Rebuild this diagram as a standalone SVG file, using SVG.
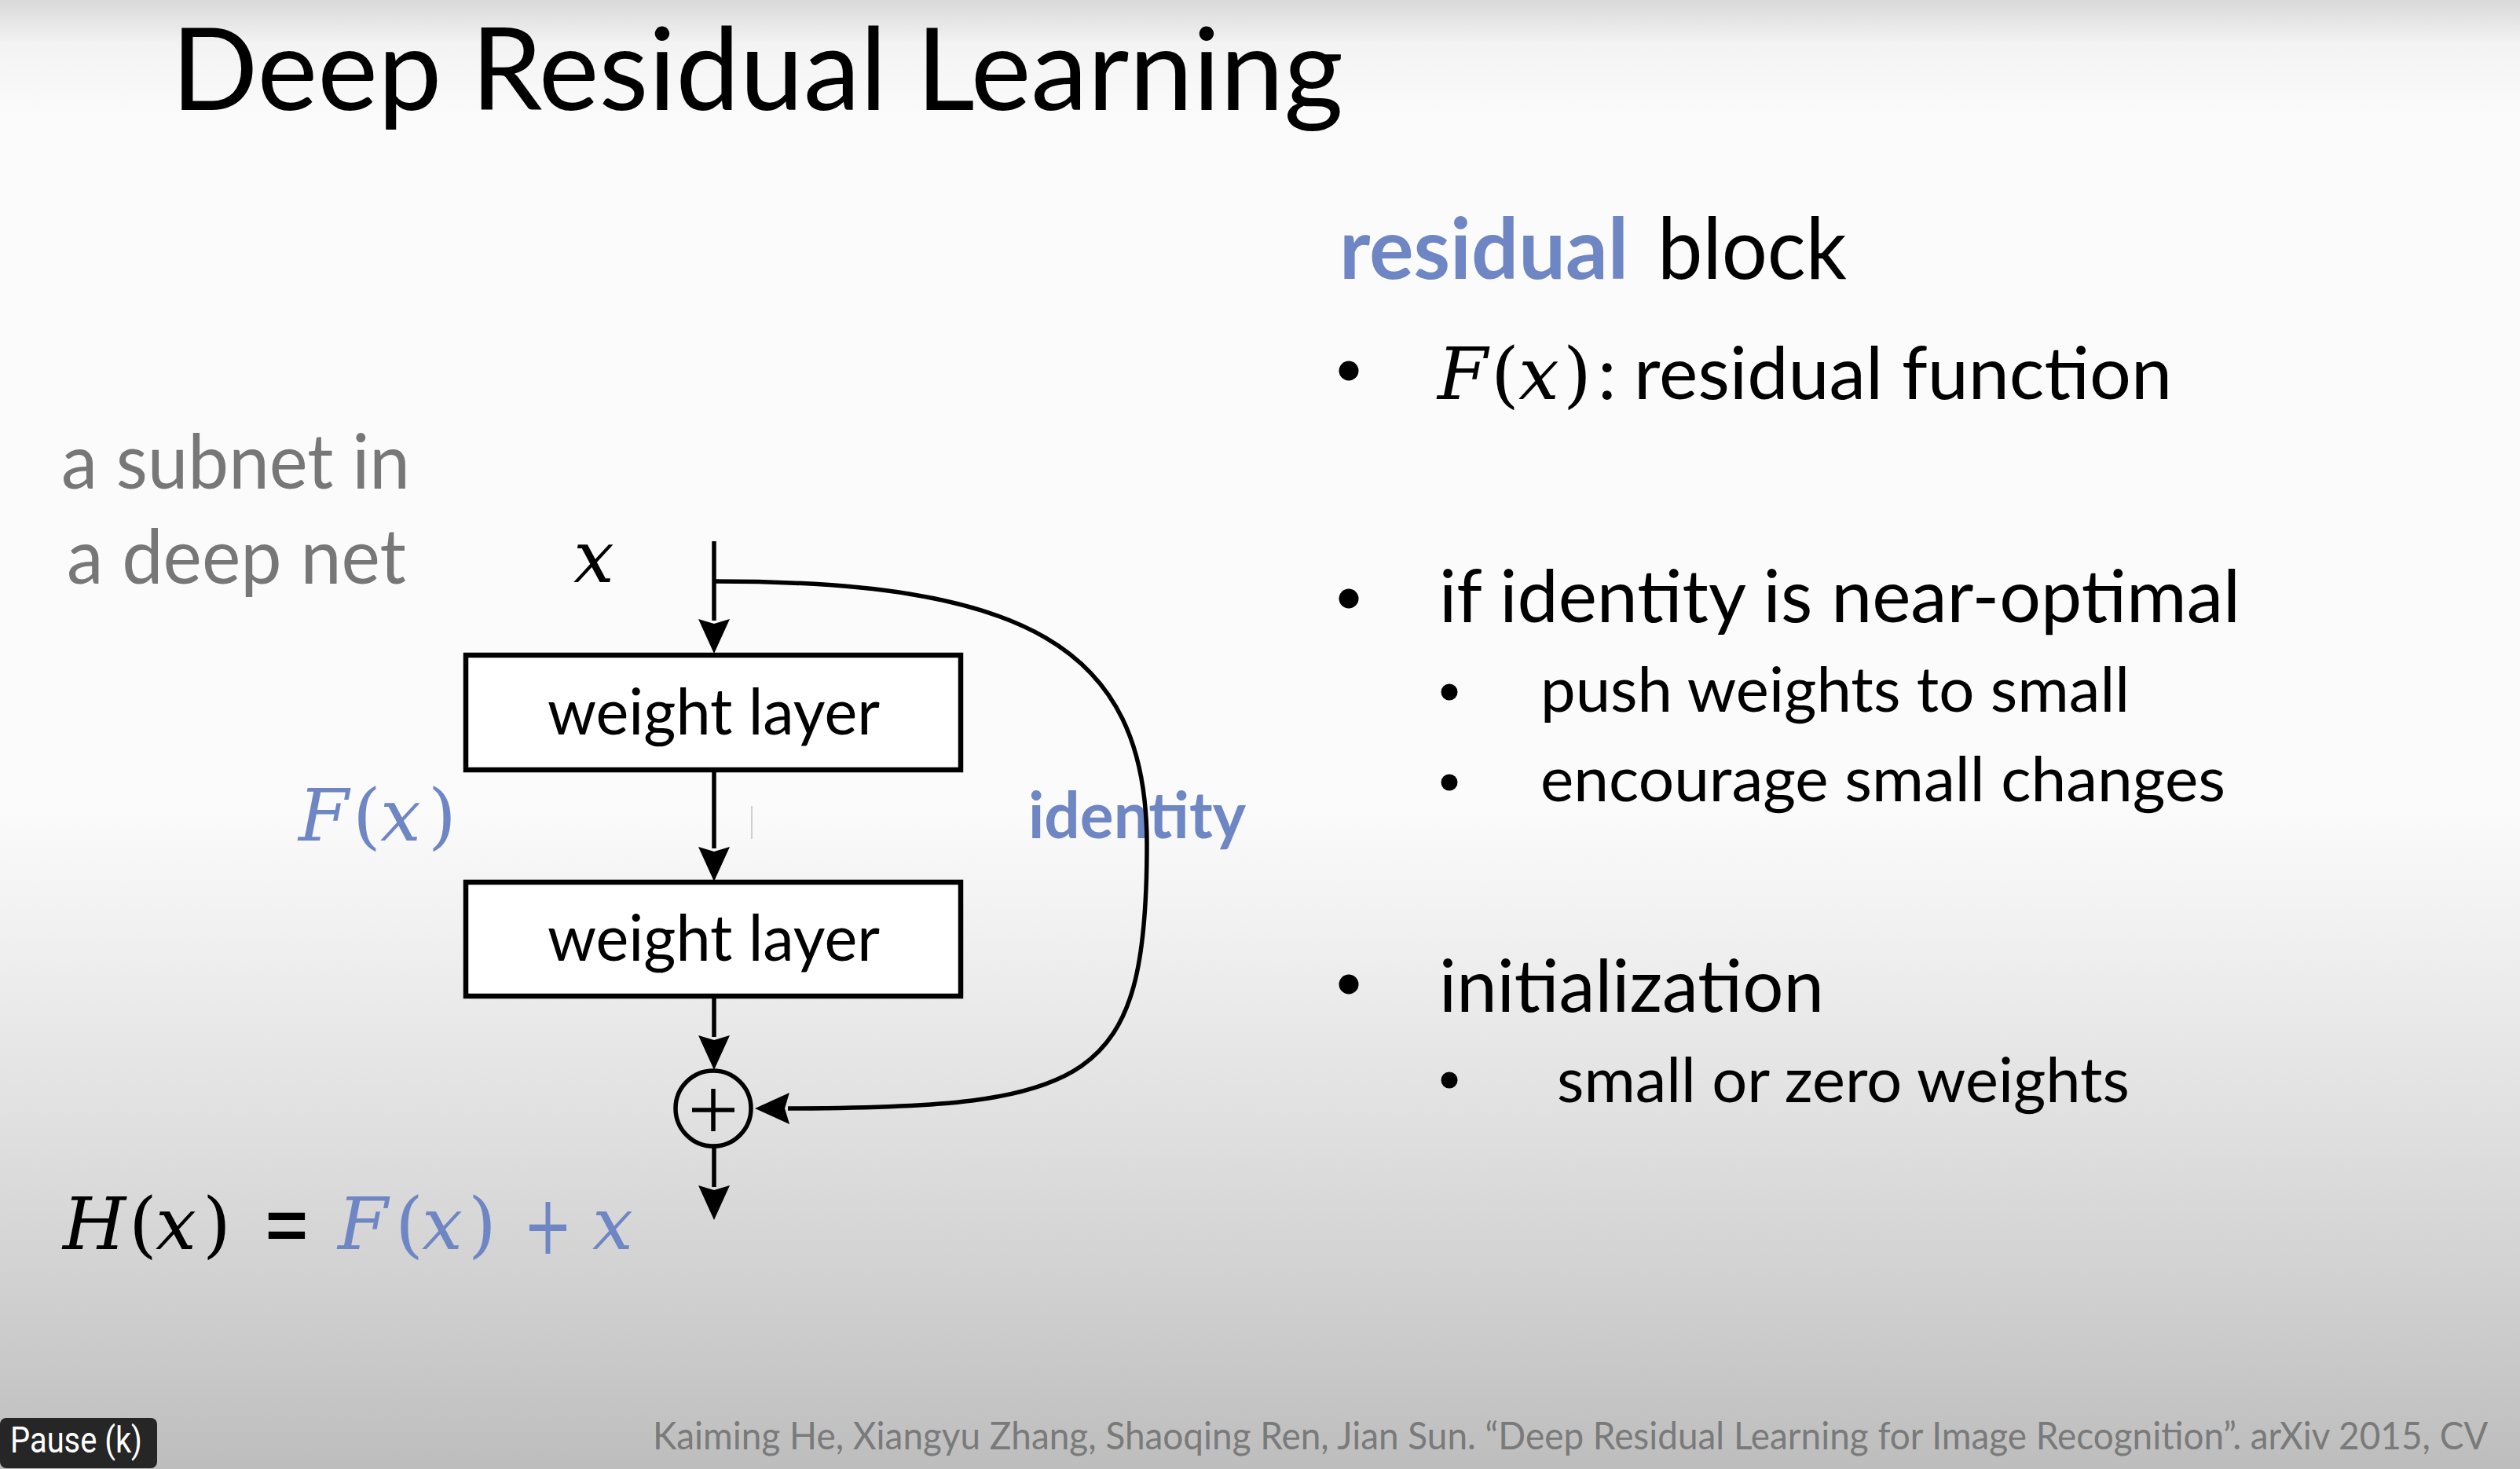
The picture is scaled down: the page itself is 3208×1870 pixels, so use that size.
<svg xmlns="http://www.w3.org/2000/svg" width="3208" height="1870" viewBox="0 0 3208 1870">
<defs>
<linearGradient id="bg" x1="0" y1="0" x2="0" y2="1">
<stop offset="0" stop-color="#d9d9d9"/>
<stop offset="0.03" stop-color="#f3f3f3"/>
<stop offset="0.08" stop-color="#fbfbfb"/>
<stop offset="0.55" stop-color="#fbfbfb"/>
<stop offset="0.63" stop-color="#f1f1f1"/>
<stop offset="0.78" stop-color="#dedede"/>
<stop offset="0.9" stop-color="#cdcdcd"/>
<stop offset="1" stop-color="#bdbdbd"/>
</linearGradient>
<marker id="arr" markerUnits="userSpaceOnUse" markerWidth="46" markerHeight="42" refX="2" refY="20" orient="auto">
<path d="M0,0 L44,20 L0,40 L6,20 z" fill="#000"/>
</marker>
<style>
.sans{font-family:Lato,"Open Sans","Liberation Sans",sans-serif}
.math{font-family:"DejaVu Serif","Liberation Serif",serif}
.mi{font-style:italic}
.blue{fill:#6f86c4}
.gray{fill:#777777}
.box{fill:#ffffff;stroke:#000;stroke-width:6.5}
.wire{fill:none;stroke:#000;stroke-width:5.5}
.bul{fill:#000}
</style>
</defs>
<rect x="0" y="0" width="3208" height="1870" fill="url(#bg)"/>

<text class="sans" x="218" y="140" font-size="146" textLength="1492" lengthAdjust="spacingAndGlyphs" fill="#000">Deep Residual Learning</text>

<g id="subnet-label" class="sans gray" font-size="97">
<text x="78" y="622" textLength="444" lengthAdjust="spacingAndGlyphs">a subnet in</text>
<text x="85" y="743" textLength="432" lengthAdjust="spacingAndGlyphs">a deep net</text>
</g>

<g id="input-x" class="math mi" font-size="92"><text x="730" y="741">x</text></g>

<g id="fx-label" class="math blue" font-size="92">
<text x="380" y="1070" class="mi">F</text>
<text x="449" y="1070">(</text>
<text x="484" y="1070" class="mi">x</text>
<text x="545" y="1070">)</text>
</g>

<g id="identity-label"><text class="sans blue" x="1309" y="1067" font-size="82" font-weight="bold" textLength="277" lengthAdjust="spacingAndGlyphs">identity</text></g>

<g id="weight-layer-1">
<rect class="box" x="593" y="834" width="630" height="146"/>
<text class="sans" x="697" y="935" font-size="82" textLength="423" lengthAdjust="spacingAndGlyphs">weight layer</text>
</g>
<g id="weight-layer-2">
<rect class="box" x="593" y="1123" width="630" height="145"/>
<text class="sans" x="697" y="1223" font-size="82" textLength="423" lengthAdjust="spacingAndGlyphs">weight layer</text>
</g>
<g id="sum-node">
<circle cx="908" cy="1411" r="48" fill="none" stroke="#000" stroke-width="5.5"/>
<path d="M881,1413 H935 M908,1386 V1440" stroke="#000" stroke-width="5.5" fill="none"/>
</g>

<g id="connectors">
<path class="wire" d="M909,689 V790" marker-end="url(#arr)"/>
<path class="wire" d="M909,980 V1080" marker-end="url(#arr)"/>
<path class="wire" d="M909,1268 V1320" marker-end="url(#arr)"/>
<path class="wire" d="M909,1459 V1511" marker-end="url(#arr)"/>
<path class="wire" d="M909,740 C1300,740 1460,820 1460,1075 C1460,1380 1390,1410 1003,1411" marker-end="url(#arr)"/>
</g>
<line x1="957" y1="1026" x2="957" y2="1068" stroke="#cfcfcf" stroke-width="2"/>

<g id="equation" font-size="92">
<text class="math mi" x="80" y="1590">H</text>
<text class="math" x="164" y="1590">(</text>
<text class="math mi" x="198" y="1590">x</text>
<text class="math" x="258" y="1590">)</text>
<text class="math" x="334" y="1598" font-size="120" textLength="62" lengthAdjust="spacingAndGlyphs">=</text>
<text class="math mi blue" x="430" y="1590">F</text>
<text class="math blue" x="503" y="1590">(</text>
<text class="math mi blue" x="537" y="1590">x</text>
<text class="math blue" x="596" y="1590">)</text>
<text class="math blue" x="666" y="1596" font-size="104" textLength="63" lengthAdjust="spacingAndGlyphs">+</text>
<text class="math mi blue" x="754" y="1590">x</text>
</g>

<g id="right-column">
<text class="sans" x="1705" y="355" font-size="108"><tspan class="blue" font-weight="bold" textLength="368" lengthAdjust="spacingAndGlyphs">residual</tspan></text>
<text class="sans" x="2110" y="355" font-size="108" textLength="241" lengthAdjust="spacingAndGlyphs">block</text>

<circle class="bul" cx="1717" cy="472" r="12.5"/>
<text class="math mi" x="1830" y="508" font-size="92">F</text>
<text class="math" x="1898" y="508" font-size="92">(</text>
<text class="math mi" x="1933" y="508" font-size="92">x</text>
<text class="math" x="1990" y="508" font-size="92">)</text>
<text class="sans" x="2034" y="508" font-size="94">:</text>
<text class="sans" x="2080" y="508" font-size="94" textLength="685" lengthAdjust="spacingAndGlyphs">residual function</text>

<circle class="bul" cx="1717" cy="762" r="12.5"/>
<text class="sans" x="1832" y="792" font-size="94" textLength="1020" lengthAdjust="spacingAndGlyphs">if identity is near-optimal</text>
<circle class="bul" cx="1845" cy="881" r="10.5"/>
<text class="sans" x="1961" y="906" font-size="80" textLength="750" lengthAdjust="spacingAndGlyphs">push weights to small</text>
<circle class="bul" cx="1845" cy="996" r="10.5"/>
<text class="sans" x="1961" y="1020" font-size="80" textLength="872" lengthAdjust="spacingAndGlyphs">encourage small changes</text>

<circle class="bul" cx="1717" cy="1253" r="12.5"/>
<text class="sans" x="1832" y="1288" font-size="94" textLength="490" lengthAdjust="spacingAndGlyphs">initialization</text>
<circle class="bul" cx="1845" cy="1375" r="10.5"/>
<text class="sans" x="1982" y="1403" font-size="80" textLength="729" lengthAdjust="spacingAndGlyphs">small or zero weights</text>
</g>

<g id="citation">
<text class="sans" transform="translate(831,1845) scale(0.88,1)" x="0" y="0" font-size="49" fill="#7a7a7a" textLength="2655" lengthAdjust="spacingAndGlyphs">Kaiming He, Xiangyu Zhang, Shaoqing Ren, Jian Sun. “Deep Residual Learning for Image Recognition”. arXiv 2015, CV</text>
</g>

<g id="pause-badge">
<rect x="0" y="1805" width="200" height="64" rx="8" fill="#262626"/>
<text x="13" y="1849" font-family="Roboto,'Liberation Sans',sans-serif" font-size="46" fill="#ffffff" textLength="168" lengthAdjust="spacingAndGlyphs">Pause (k)</text>
</g>
</svg>
